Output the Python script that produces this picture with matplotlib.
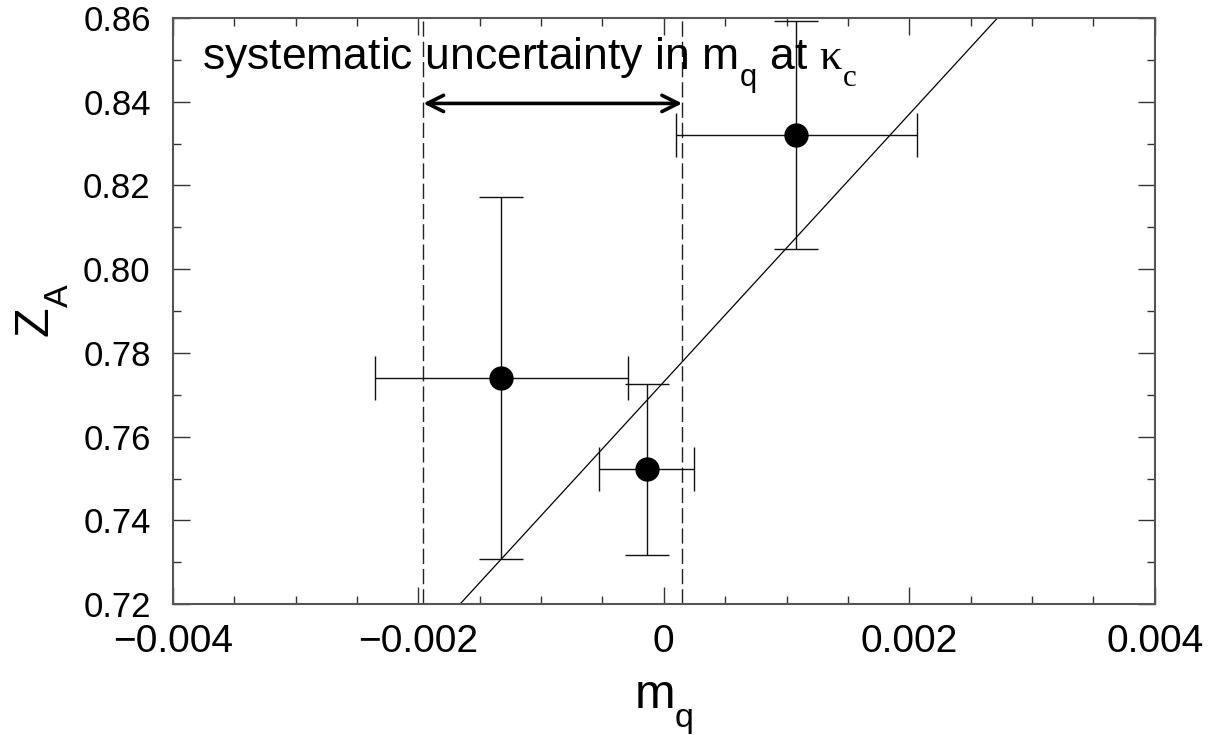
import numpy as np
import matplotlib as mp
mp.use('Agg')
import matplotlib.pyplot as plt
import matplotlib._mathtext as mtx
from matplotlib.ticker import MultipleLocator

plt.rcParams['font.family'] = ['Liberation Sans', 'DejaVu Sans']
plt.rcParams['mathtext.fontset'] = 'custom'
plt.rcParams['mathtext.rm'] = 'Liberation Sans'
plt.rcParams['mathtext.cal'] = 'Liberation Serif'
# drop the subscripts lower, like the original
mtx.FontConstantsBase.sub1 = 0.72
mtx.FontConstantsBase.subdrop = 0.72

# data
mq = [-0.001325, -0.000141, 0.001081]
mq_err = [0.00103, 0.00039, 0.00098]
za = [0.7740, 0.7522, 0.8320]
za_err = [0.0432, 0.0204, 0.0272]

# linear fit Z_A = fit_a + fit_b * m_q
fit_a = 0.7731
fit_b = 31.96

# systematic uncertainty band in m_q at kappa_c
band = [-0.00196, 0.00015]

fig = plt.figure(figsize=(12.18, 7.35), dpi=100)
ax = fig.add_axes([0.142, 0.178, 0.806, 0.7975])

xf = np.array([-0.004, 0.004])
ax.plot(xf, fit_a + fit_b * xf, '-', color='k', lw=0.9)

for xb in band:
    ax.axvline(xb, ls=(0, (11, 3.6)), lw=1.0, color='#222222')

ax.errorbar(mq, za, xerr=mq_err, yerr=za_err, fmt='o', color='k',
            ms=16.5, ecolor='#111111', elinewidth=1.0, capsize=16, capthick=1.0)

ax.annotate('', xy=(band[0], 0.8396), xytext=(band[1], 0.8396),
            arrowprops=dict(arrowstyle='<->,head_length=0.9,head_width=0.45',
                            mutation_scale=13, lw=2.6, color='k',
                            shrinkA=0, shrinkB=0))
ax.text(-0.00376, 0.8476,
        r'systematic uncertainty in m$_\mathrm{q}$ at $\mathcal{\kappa}_\mathcal{c}$',
        fontsize=32, va='baseline', ha='left')

ax.set_xlim(-0.004, 0.004)
ax.set_ylim(0.72, 0.86)
ax.xaxis.set_major_locator(MultipleLocator(0.002))
ax.xaxis.set_minor_locator(MultipleLocator(0.0005))
ax.yaxis.set_major_locator(MultipleLocator(0.02))
ax.yaxis.set_minor_locator(MultipleLocator(0.01))
ax.set_xticks([-0.004, -0.002, 0, 0.002, 0.004])
ax.set_xticklabels(['\u22120.004', '\u22120.002', '0', '0.002', '0.004'])
ax.set_yticklabels(['%.2f' % v for v in ax.get_yticks()])
ax.tick_params(which='both', direction='in', top=True, right=True,
               color='#333333')
ax.tick_params(which='major', length=12, width=1.0)
ax.tick_params(which='minor', length=6, width=1.0)
ax.tick_params(axis='x', which='major', labelsize=28, pad=14)
ax.tick_params(axis='y', which='major', labelsize=25, pad=16)
for s in ax.spines.values():
    s.set_linewidth(1.5)
    s.set_color('#555555')

ax.set_xlabel(r'm$_\mathrm{q}$', fontsize=35, labelpad=15)
ax.set_ylabel(r'Z$_\mathrm{A}$', fontsize=35, labelpad=9)

plt.savefig('out.png', dpi=100)
